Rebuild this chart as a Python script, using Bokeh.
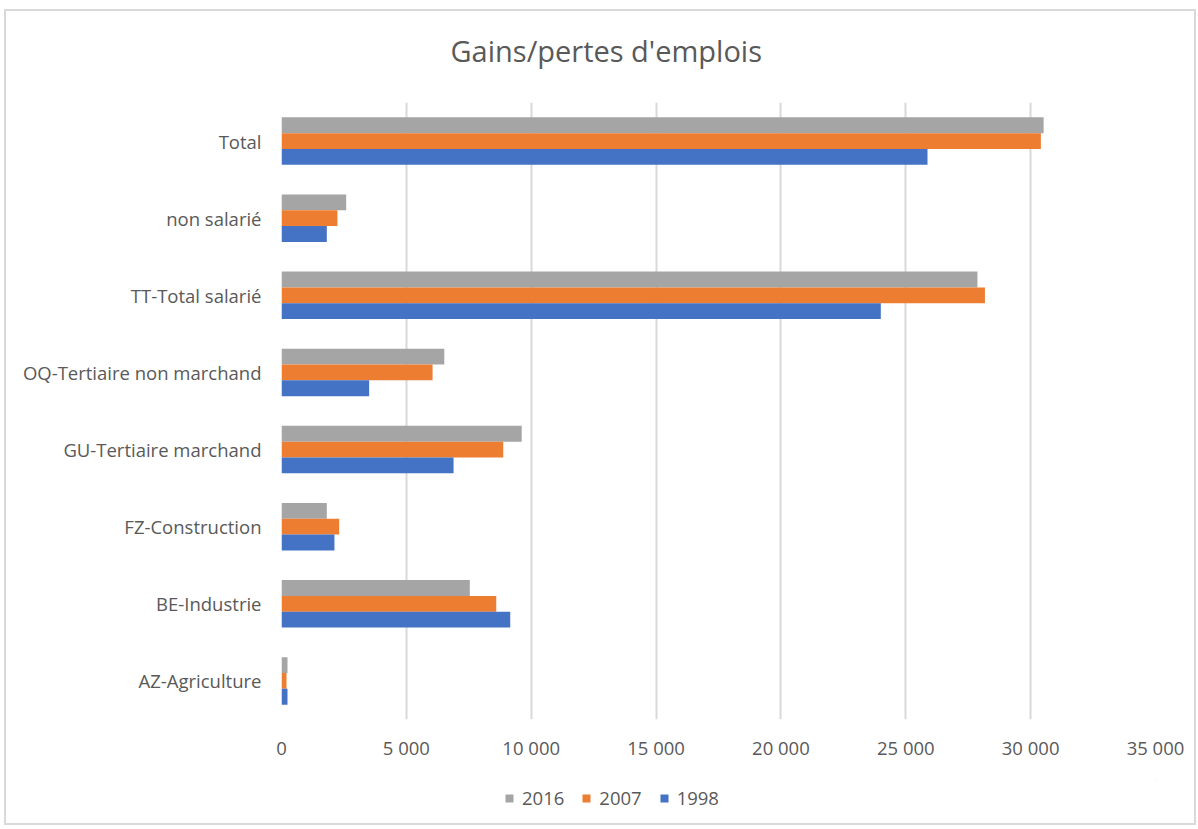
from bokeh.plotting import figure
from bokeh.layouts import column
from bokeh.models import ColumnDataSource, FixedTicker, Legend, LegendItem, Title
from bokeh.transform import dodge
from bokeh.embed import file_html
from bokeh.resources import INLINE

categories = ["AZ-Agriculture", "BE-Industrie", "FZ-Construction", "GU-Tertiaire marchand",
              "OQ-Tertiaire non marchand", "TT-Total salarié", "non salarié", "Total"]
v2016 = [240, 7540, 1815, 9620, 6520, 27870, 2590, 30520]
v2007 = [200, 8600, 2310, 8880, 6050, 28170, 2240, 30410]
v1998 = [240, 9160, 2120, 6890, 3510, 24000, 1815, 25870]
series_names = ["2016", "2007", "1998"]
colors = ["#A5A5A5", "#ED7D31", "#4472C4"]
ticks = [0, 5000, 10000, 15000, 20000, 25000, 30000, 35000]
tick_labels = ["0", "5 000", "10 000", "15 000", "20 000", "25 000", "30 000", "35 000"]
title_text = "Gains/pertes d'emplois"

src = ColumnDataSource(dict(cat=categories, v2016=v2016, v2007=v2007, v1998=v1998))

FONT = "Open Sans"
TXT = "#595959"

p = figure(y_range=categories, x_range=(0, 35000), width=1188, height=768, title=None,
           output_backend="svg", toolbar_location=None,
           min_border_left=275, min_border_right=39, min_border_top=91, min_border_bottom=60)
p.y_range.range_padding = 0

bh = 0.205
series_cols = ["v2016", "v2007", "v1998"]
offsets = [bh, 0, -bh]
for col, off, c in zip(series_cols, offsets, colors):
    p.hbar(y=dodge("cat", off, range=p.y_range), right=col, left=0, height=bh, source=src,
           color=c, line_color=None)

p.xaxis.ticker = FixedTicker(ticks=ticks)
p.xaxis.major_label_overrides = {t: l for t, l in zip(ticks, tick_labels)}
for ax in (p.xaxis[0], p.yaxis[0]):
    ax.axis_line_color = None
    ax.major_tick_line_color = None
    ax.minor_tick_line_color = None
    ax.major_label_text_font = FONT
    ax.major_label_text_font_size = "18.5px"
    ax.major_label_text_color = TXT
p.xaxis.major_label_standoff = 9
p.yaxis.major_label_standoff = 14

p.ygrid.grid_line_color = None
p.xgrid.grid_line_color = "#D9D9D9"
p.xgrid.grid_line_width = 2
p.outline_line_color = None

# spacer between frame and title, then the title itself
p.add_layout(Title(text=" ", text_font_size="1px", standoff=30), "above")
p.add_layout(Title(text=title_text, align="left", offset=169, standoff=0, text_font=FONT,
                   text_font_size="29px", text_font_style="normal", text_color=TXT), "above")

# legend strip
lf = figure(width=1188, height=44, x_range=(0, 1), y_range=(0, 1), output_backend="svg",
            toolbar_location=None, x_axis_location=None, y_axis_location=None,
            min_border=0, min_border_left=0, min_border_right=0, min_border_top=0, min_border_bottom=0)
lf.outline_line_color = None
lf.grid.grid_line_color = None
rs = [lf.hbar(y=[5], right=[5], left=[5], height=0, color=c, line_color=None) for c in colors]
legend = Legend(items=[LegendItem(label=n, renderers=[r]) for n, r in zip(series_names, rs)],
                orientation="horizontal", location=(223, 13), border_line_color=None,
                background_fill_alpha=0, label_text_font=FONT, label_text_font_size="18.5px",
                label_text_color=TXT, glyph_width=10, glyph_height=10, spacing=17,
                label_standoff=8, padding=0, margin=0)
lf.add_layout(legend, "center")

layout = column(p, lf, spacing=0,
                styles={"border": "2px solid #D9D9D9", "margin-top": "9px", "margin-left": "4px"})

open("out.html", "w").write(file_html(layout, INLINE))
